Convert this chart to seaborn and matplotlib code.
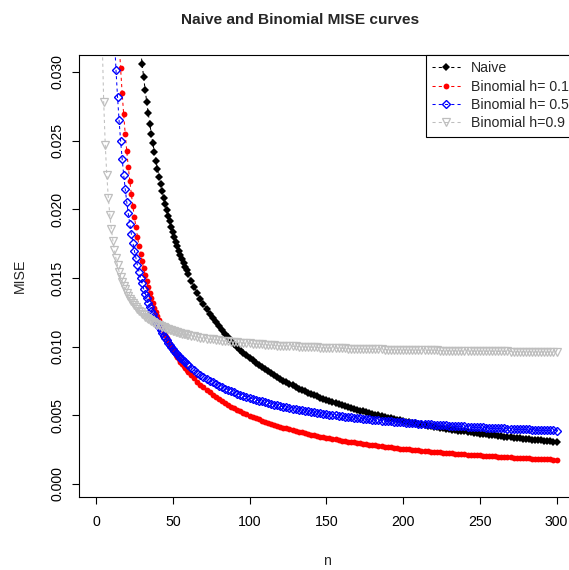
import matplotlib
matplotlib.use("Agg")
import matplotlib.pyplot as plt
import seaborn as sns

# sample sizes n where the MISE was evaluated
n_grid = [4, 5, 6, 7, 8, 9, 10, 11, 12, 13, 14, 15, 16, 17, 18, 19, 20, 21, 22, 23,
          24, 25, 26, 27, 28, 29, 30, 31, 32, 33, 34, 35, 36, 37, 38, 39, 40, 41, 42, 43,
          44, 45, 46, 47, 48, 49, 50, 51, 52, 53, 54, 55, 56, 57, 58, 59, 60,
          62, 64, 66, 68, 70, 72, 74, 76, 78, 80, 82, 84, 86, 88, 90, 92, 94, 96, 98, 100,
          102, 104, 106, 108, 110, 112, 114, 116, 118, 120, 122, 124, 126, 128, 130, 132,
          134, 136, 138, 140, 142, 144, 146, 148, 150, 152, 154, 156, 158, 160, 162, 164,
          166, 168, 170, 172, 174, 176, 178, 180, 182, 184, 186, 188, 190, 192, 194, 196,
          198, 200, 202, 204, 206, 208, 210, 212, 214, 216, 218, 220, 222, 224, 226, 228,
          230, 232, 234, 236, 238, 240, 242, 244, 246, 248, 250, 252, 254, 256, 258, 260,
          262, 264, 266, 268, 270, 272, 274, 276, 278, 280, 282, 284, 286, 288, 290, 292,
          294, 296, 298, 300]

# Naive (from n=28)
naive = [0.03279, 0.03166, 0.03060, 0.02961, 0.02869, 0.02782, 0.02700, 0.02623, 0.02550, 0.02481,
         0.02416, 0.02354, 0.02295, 0.02239, 0.02186, 0.02135, 0.02086, 0.02040, 0.01996, 0.01953,
         0.01913, 0.01873, 0.01836, 0.01800, 0.01765, 0.01732, 0.01700, 0.01669, 0.01639, 0.01611,
         0.01583, 0.01556, 0.01530,
         0.01481, 0.01434, 0.01391, 0.01350, 0.01311, 0.01275, 0.01241, 0.01208, 0.01177, 0.01148,
         0.01120, 0.01093, 0.01067, 0.01043, 0.01020, 0.00998, 0.00977, 0.00956, 0.00937, 0.00918,
         0.00900, 0.00883, 0.00866, 0.00850, 0.00835, 0.00820, 0.00805, 0.00791, 0.00778, 0.00765,
         0.00752, 0.00740, 0.00729, 0.00717, 0.00706, 0.00695, 0.00685, 0.00675, 0.00665, 0.00656,
         0.00646, 0.00638, 0.00629, 0.00620, 0.00612, 0.00604, 0.00596, 0.00588, 0.00581, 0.00574,
         0.00567, 0.00560, 0.00553, 0.00546, 0.00540, 0.00534, 0.00528, 0.00522, 0.00516, 0.00510,
         0.00504, 0.00499, 0.00494, 0.00488, 0.00483, 0.00478, 0.00473, 0.00468, 0.00464, 0.00459,
         0.00454, 0.00450, 0.00446, 0.00441, 0.00437, 0.00433, 0.00429, 0.00425, 0.00421, 0.00417,
         0.00414, 0.00410, 0.00406, 0.00403, 0.00399, 0.00396, 0.00392, 0.00389, 0.00386, 0.00383,
         0.00379, 0.00376, 0.00373, 0.00370, 0.00367, 0.00364, 0.00361, 0.00359, 0.00356, 0.00353,
         0.00350, 0.00348, 0.00345, 0.00343, 0.00340, 0.00338, 0.00335, 0.00333, 0.00330, 0.00328,
         0.00326, 0.00323, 0.00321, 0.00319, 0.00317, 0.00314, 0.00312, 0.00310, 0.00308, 0.00306]

# Binomial h=0.1 (from n=14)
binom_01 = [0.03458, 0.03228, 0.03028, 0.02850, 0.02693, 0.02552, 0.02425, 0.02310, 0.02206, 0.02111,
            0.02023, 0.01943, 0.01869, 0.01800, 0.01736, 0.01677, 0.01622, 0.01570, 0.01521, 0.01476,
            0.01433, 0.01392, 0.01354, 0.01318, 0.01283, 0.01251, 0.01220, 0.01191, 0.01163, 0.01136,
            0.01110, 0.01086, 0.01063, 0.01041, 0.01019, 0.00999, 0.00979, 0.00960, 0.00942, 0.00924,
            0.00908, 0.00891, 0.00876, 0.00861, 0.00846, 0.00832, 0.00818,
            0.00792, 0.00768, 0.00745, 0.00724, 0.00704, 0.00684, 0.00666, 0.00649, 0.00633, 0.00618,
            0.00603, 0.00589, 0.00575, 0.00563, 0.00551, 0.00539, 0.00528, 0.00517, 0.00507, 0.00497,
            0.00488, 0.00478, 0.00470, 0.00461, 0.00453, 0.00445, 0.00438, 0.00431, 0.00423, 0.00417,
            0.00410, 0.00404, 0.00398, 0.00392, 0.00386, 0.00380, 0.00375, 0.00369, 0.00364, 0.00359,
            0.00354, 0.00350, 0.00345, 0.00341, 0.00336, 0.00332, 0.00328, 0.00324, 0.00320, 0.00316,
            0.00313, 0.00309, 0.00305, 0.00302, 0.00299, 0.00295, 0.00292, 0.00289, 0.00286, 0.00283,
            0.00280, 0.00277, 0.00274, 0.00271, 0.00269, 0.00266, 0.00263, 0.00261, 0.00258, 0.00256,
            0.00254, 0.00251, 0.00249, 0.00247, 0.00245, 0.00242, 0.00240, 0.00238, 0.00236, 0.00234,
            0.00232, 0.00230, 0.00228, 0.00226, 0.00225, 0.00223, 0.00221, 0.00219, 0.00218, 0.00216,
            0.00214, 0.00213, 0.00211, 0.00209, 0.00208, 0.00206, 0.00205, 0.00203, 0.00202, 0.00200,
            0.00199, 0.00198, 0.00196, 0.00195, 0.00194, 0.00192, 0.00191, 0.00190, 0.00188, 0.00187,
            0.00186, 0.00185, 0.00184, 0.00182, 0.00181, 0.00180, 0.00179, 0.00178, 0.00177, 0.00176]

# Binomial h=0.5 (from n=11)
binom_05 = [0.03516, 0.03245, 0.03016, 0.02820, 0.02650, 0.02501, 0.02370, 0.02253, 0.02149, 0.02055,
            0.01970, 0.01893, 0.01822, 0.01758, 0.01698, 0.01643, 0.01592, 0.01545, 0.01501, 0.01460,
            0.01422, 0.01386, 0.01352, 0.01320, 0.01290, 0.01262, 0.01235, 0.01209, 0.01185, 0.01163,
            0.01141, 0.01120, 0.01100, 0.01081, 0.01063, 0.01046, 0.01030, 0.01014, 0.00999, 0.00984,
            0.00970, 0.00957, 0.00944, 0.00931, 0.00919, 0.00908, 0.00896, 0.00886, 0.00875, 0.00865,
            0.00846, 0.00828, 0.00811, 0.00795, 0.00780, 0.00766, 0.00752, 0.00740, 0.00728, 0.00716,
            0.00705, 0.00695, 0.00685, 0.00676, 0.00667, 0.00658, 0.00650, 0.00642, 0.00634, 0.00627,
            0.00620, 0.00613, 0.00607, 0.00601, 0.00595, 0.00589, 0.00583, 0.00578, 0.00573, 0.00568,
            0.00563, 0.00558, 0.00553, 0.00549, 0.00545, 0.00540, 0.00536, 0.00533, 0.00529, 0.00525,
            0.00521, 0.00518, 0.00515, 0.00511, 0.00508, 0.00505, 0.00502, 0.00499, 0.00496, 0.00493,
            0.00490, 0.00488, 0.00485, 0.00483, 0.00480, 0.00478, 0.00475, 0.00473, 0.00471, 0.00468,
            0.00466, 0.00464, 0.00462, 0.00460, 0.00458, 0.00456, 0.00454, 0.00452, 0.00450, 0.00449,
            0.00447, 0.00445, 0.00443, 0.00442, 0.00440, 0.00438, 0.00437, 0.00435, 0.00434, 0.00432,
            0.00431, 0.00429, 0.00428, 0.00427, 0.00425, 0.00424, 0.00423, 0.00421, 0.00420, 0.00419,
            0.00418, 0.00416, 0.00415, 0.00414, 0.00413, 0.00412, 0.00411, 0.00409, 0.00408, 0.00407,
            0.00406, 0.00405, 0.00404, 0.00403, 0.00402, 0.00401, 0.00400, 0.00399, 0.00398, 0.00398,
            0.00397, 0.00396, 0.00395, 0.00394, 0.00393, 0.00392, 0.00391, 0.00391, 0.00390, 0.00389]

# Binomial h=0.9 (from n=4)
binom_09 = [0.03243, 0.02780, 0.02472, 0.02251, 0.02086, 0.01958, 0.01855, 0.01771, 0.01701, 0.01642,
            0.01591, 0.01547, 0.01508, 0.01474, 0.01444, 0.01417, 0.01393, 0.01371, 0.01350, 0.01332,
            0.01315, 0.01300, 0.01286, 0.01273, 0.01260, 0.01249, 0.01238, 0.01228, 0.01219, 0.01210,
            0.01202, 0.01194, 0.01187, 0.01180, 0.01173, 0.01167, 0.01161, 0.01156, 0.01150, 0.01145,
            0.01140, 0.01136, 0.01131, 0.01127, 0.01123, 0.01119, 0.01115, 0.01111, 0.01108, 0.01105,
            0.01101, 0.01098, 0.01095, 0.01092, 0.01090, 0.01087, 0.01084,
            0.01079, 0.01075, 0.01070, 0.01066, 0.01062, 0.01058, 0.01055, 0.01052, 0.01049, 0.01046,
            0.01043, 0.01040, 0.01038, 0.01035, 0.01033, 0.01031, 0.01028, 0.01026, 0.01024, 0.01023,
            0.01021, 0.01019, 0.01017, 0.01016, 0.01014, 0.01013, 0.01011, 0.01010, 0.01008, 0.01007,
            0.01006, 0.01005, 0.01003, 0.01002, 0.01001, 0.01000, 0.00999, 0.00998, 0.00997, 0.00996,
            0.00995, 0.00994, 0.00993, 0.00993, 0.00992, 0.00991, 0.00990, 0.00989, 0.00989, 0.00988,
            0.00987, 0.00986, 0.00986, 0.00985, 0.00984, 0.00984, 0.00983, 0.00983, 0.00982, 0.00981,
            0.00981, 0.00980, 0.00980, 0.00979, 0.00979, 0.00978, 0.00978, 0.00977, 0.00977, 0.00976,
            0.00976, 0.00975, 0.00975, 0.00974, 0.00974, 0.00974, 0.00973, 0.00973, 0.00972, 0.00972,
            0.00972, 0.00971, 0.00971, 0.00971, 0.00970, 0.00970, 0.00970, 0.00969, 0.00969, 0.00969,
            0.00968, 0.00968, 0.00968, 0.00967, 0.00967, 0.00967, 0.00966, 0.00966, 0.00966, 0.00966,
            0.00965, 0.00965, 0.00965, 0.00965, 0.00964, 0.00964, 0.00964, 0.00964, 0.00963, 0.00963,
            0.00963, 0.00963, 0.00962, 0.00962, 0.00962, 0.00962, 0.00961, 0.00961, 0.00961, 0.00961]

y_ticks = [0.000, 0.005, 0.010, 0.015, 0.020, 0.025, 0.030]
x_ticks = [0, 50, 100, 150, 200, 250, 300]

sns.set_theme(style="ticks")
plt.rcParams['font.family'] = ['Liberation Sans', 'DejaVu Sans']

fig = plt.figure(figsize=(5.69, 5.70), dpi=100)
# plot region runs a bit past the right edge, like the cropped original
ax = fig.add_axes([0.1392, 0.1281, 0.8712, 0.7754])

dash = (0, (3, 3))
series = [
    (naive, 28, "Naive", dict(color="black", marker="D", markersize=3.8,
                               markeredgecolor="black", markeredgewidth=0)),
    (binom_01, 14, "Binomial h= 0.1", dict(color="red", marker="o", markersize=4.2,
                                           markeredgecolor="red", markeredgewidth=0)),
    (binom_05, 11, "Binomial h= 0.5", dict(color="blue", marker="D", markersize=3.9,
                                           markerfacecolor="none", markeredgecolor="blue",
                                           markeredgewidth=1.0)),
    (binom_09, 4, "Binomial h=0.9", dict(color="#BEBEBE", marker="v", markersize=5.8,
                                         markerfacecolor="none", markeredgecolor="#BEBEBE",
                                         markeredgewidth=0.9)),
]
for vals, first_n, lab, kw in series:
    xs = n_grid[n_grid.index(first_n):]
    assert len(xs) == len(vals), (lab, len(xs), len(vals))
    sns.lineplot(x=xs, y=vals, ax=ax, label=lab, linestyle=dash,
                 linewidth=0.75, sort=False, estimator=None, errorbar=None, **kw)

ax.set_xlim(-10.96, 311.96)
ax.set_ylim(-0.00095, 0.03124)
ax.set_xticks(x_ticks)
ax.set_yticks(y_ticks)
ax.set_yticklabels([f"{v:.3f}" for v in y_ticks], rotation=90, va="center")
ax.tick_params(axis="both", direction="out", length=5, width=0.8, labelsize=10.2,
               color="black", labelcolor="black")
ax.tick_params(axis="x", pad=8.3)
ax.tick_params(axis="y", pad=5.3)
for s in ax.spines.values():
    s.set_color("black")
    s.set_linewidth(0.8)

ax.set_xlabel("n", fontsize=10.2, labelpad=18)
ax.set_ylabel("MISE", fontsize=10.2, labelpad=17)
fig.text(300 / 569, 1 - 20 / 570, "Naive and Binomial MISE curves", fontsize=11.1,
         fontweight="bold", ha="center", va="center")

leg = ax.legend(loc="upper right", borderaxespad=0, fancybox=False, framealpha=1,
                edgecolor="black", fontsize=10.2, handlelength=2.0, handletextpad=0.7,
                labelspacing=0.3, borderpad=0.45, numpoints=1)
leg.get_frame().set_linewidth(0.8)

fig.savefig("out.png", dpi=100)
